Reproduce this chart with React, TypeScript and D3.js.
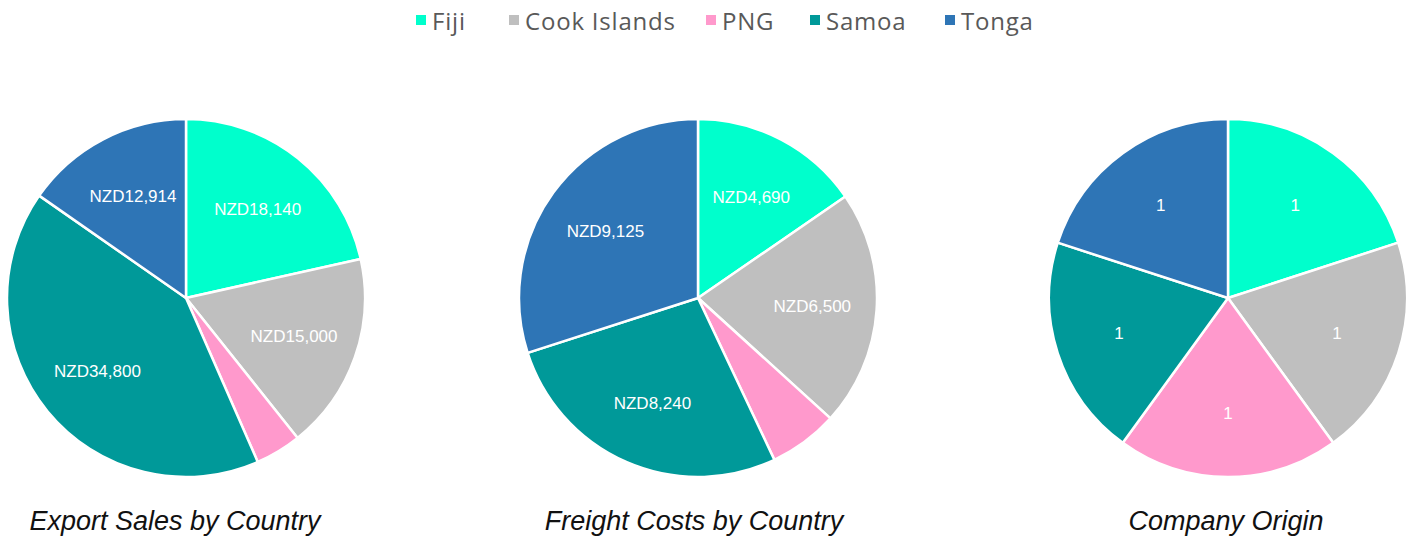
import React, { useEffect, useRef } from "react";
import * as d3 from "d3";

const countries = ["Fiji", "Cook Islands", "PNG", "Samoa", "Tonga"];
const colors = ["#00FFCC", "#BFBFBF", "#FF99CC", "#009999", "#2E75B6"];

const exportSales = [18140, 15000, 3500, 34800, 12914];
const freightCosts = [4690, 6500, 1900, 8240, 9125];
const companyOrigin = [1, 1, 1, 1, 1];

// which slices carry a data label
const exportLabels = ["NZD18,140", "NZD15,000", "", "NZD34,800", "NZD12,914"];
const freightLabels = ["NZD4,690", "NZD6,500", "", "NZD8,240", "NZD9,125"];
const originLabels = ["1", "1", "1", "1", "1"];

const titles = ["Export Sales by Country", "Freight Costs by Country", "Company Origin"];

const App: React.FC = () => {
  const svgRef = useRef<SVGSVGElement | null>(null);

  useEffect(() => {
    if (!svgRef.current) return;
    const width = 1414;
    const height = 539;

    d3.select(svgRef.current).selectAll("*").remove();
    const svg = d3.select(svgRef.current).attr("width", width).attr("height", height);

    svg.append("rect").attr("width", width).attr("height", height).attr("fill", "white");

    const color = d3.scaleOrdinal<string, string>().domain(countries).range(colors);

    const charts = [
      { values: exportSales, labels: exportLabels, cx: 186, titleX: 175 },
      { values: freightCosts, labels: freightLabels, cx: 698, titleX: 694 },
      { values: companyOrigin, labels: originLabels, cx: 1228, titleX: 1226 },
    ];

    const radius = 179;
    const cy = 298;

    const pie = d3
      .pie<number>()
      .sort(null)
      .value((d) => d);

    const arc = d3.arc<d3.PieArcDatum<number>>().innerRadius(0).outerRadius(radius);
    const labelArc = d3
      .arc<d3.PieArcDatum<number>>()
      .innerRadius(radius * 0.64)
      .outerRadius(radius * 0.64);

    charts.forEach((c, ci) => {
      const g = svg.append("g").attr("transform", `translate(${c.cx},${cy})`);
      const arcs = pie(c.values);

      g.selectAll("path")
        .data(arcs)
        .enter()
        .append("path")
        .attr("d", arc)
        .attr("fill", (_, i) => color(countries[i]))
        .attr("stroke", "white")
        .attr("stroke-width", 2.5)
        .attr("stroke-linejoin", "round");

      g.selectAll("text")
        .data(arcs)
        .enter()
        .append("text")
        .attr("transform", (d) => {
          const [x, y] = labelArc.centroid(d);
          return `translate(${x},${y})`;
        })
        .attr("text-anchor", "middle")
        .attr("dy", "0.35em")
        .attr("fill", "white")
        .style("font-family", "'Liberation Sans', Arial, sans-serif")
        .style("font-size", "17px")
        .text((_, i) => c.labels[i]);

      svg
        .append("text")
        .attr("x", c.titleX)
        .attr("y", 530)
        .attr("text-anchor", "middle")
        .attr("fill", "#111")
        .style("font-family", "'Liberation Sans', Arial, sans-serif")
        .style("font-style", "italic")
        .style("font-size", "27px")
        .text(titles[ci]);
    });

    // Legend
    const legendX = [416, 509, 706, 810, 945];
    const legend = svg.append("g");
    countries.forEach((name, i) => {
      const item = legend.append("g").attr("transform", `translate(${legendX[i]},0)`);
      item
        .append("rect")
        .attr("x", 0)
        .attr("y", 15)
        .attr("width", 10)
        .attr("height", 10)
        .attr("fill", color(name));
      item
        .append("text")
        .attr("x", 16)
        .attr("y", 30)
        .attr("fill", "#595959")
        .style("font-family", "'Open Sans', sans-serif")
        .style("font-size", "24px")
        .style("letter-spacing", "0.8px")
        .text(name);
    });
  }, []);

  return (
    <div style={{ position: "absolute", left: 0, top: 0 }}>
      <svg ref={svgRef}></svg>
    </div>
  );
};

export default App;
